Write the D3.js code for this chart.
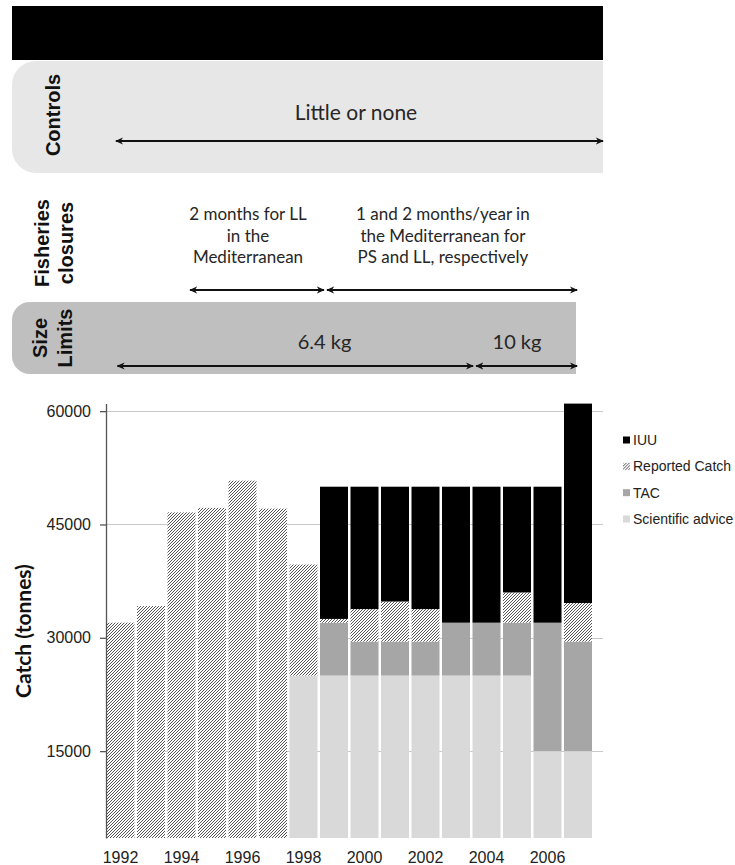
<!DOCTYPE html>
<html>
<head>
<meta charset="utf-8">
<script src="https://cdn.jsdelivr.net/npm/d3@7"></script>
<style>
  body { margin: 0; background: #fff; }
  svg { display: block; }
</style>
</head>
<body>
<svg id="chart" width="735" height="865"></svg>
<script>
// ---- data ----
var years = [1992, 1993, 1994, 1995, 1996, 1997, 1998, 1999,
             2000, 2001, 2002, 2003, 2004, 2005, 2006, 2007];
var tickYears = [1992, 1994, 1996, 1998, 2000, 2002, 2004, 2006];
var sciAdvice = [null, null, null, null, null, null, 25000, 25000,
                 25000, 25000, 25000, 25000, 25000, 25000, 15000, 15000];
var tac = [null, null, null, null, null, null, null, 32000,
           29500, 29500, 29500, 32000, 32000, 32000, 32000, 29500];
var reported = [32000, 34200, 46600, 47200, 50800, 47100, 39700, 32500,
                33800, 34800, 33800, null, null, 36000, null, 34600];
// reported + IUU
var totalCatch = [null, null, null, null, null, null, null, 50000,
                  50000, 50000, 50000, 50000, 50000, 50000, 50000, 61000];
var yTicks = [15000, 30000, 45000, 60000];
var legendLabels = ["IUU", "Reported Catch", "TAC", "Scientific advice"];

// management timeline rows (in years)
var controlsPeriods = [{from: 1991.85, to: 2007.82, at: 1999.72, lines: ["Little or none"]}];
var closurePeriods = [
  {from: 1994.28, to: 1998.67, at: 1996.18, lines: ["2 months for LL", "in the", "Mediterranean"]},
  {from: 1998.77, to: 2006.97, at: 2002.57, lines: ["1 and 2 months/year in", "the Mediterranean for", "PS and LL, respectively"]}
];
var sizePeriods = [
  {from: 1991.9, to: 2003.56, at: 1998.69, lines: ["6.4 kg"]},
  {from: 2003.66, to: 2006.97, at: 2005.0, lines: ["10 kg"]}
];

var svg = d3.select("#chart");
var defs = svg.append("defs");

var hatch = defs.append("pattern")
    .attr("id", "hatch")
    .attr("patternUnits", "userSpaceOnUse")
    .attr("width", 3)
    .attr("height", 3);
hatch.append("rect").attr("width", 3).attr("height", 3).attr("fill", "#fff");
hatch.append("path")
    .attr("d", "M-1,1 l2,-2 M0,3 l3,-3 M2,4 l2,-2")
    .attr("stroke", "#555")
    .attr("stroke-width", 1);

defs.append("marker")
    .attr("id", "head")
    .attr("viewBox", "0 0 10 10")
    .attr("refX", 9)
    .attr("refY", 5)
    .attr("markerUnits", "userSpaceOnUse")
    .attr("markerWidth", 8)
    .attr("markerHeight", 8)
    .attr("orient", "auto-start-reverse")
  .append("path")
    .attr("d", "M0,0.5 L10,5 L0,9.5 L3,5 Z")
    .attr("fill", "#111");

// ---- scales ----
var x = d3.scaleBand()
    .domain(years)
    .range([106.5, 592])
    .paddingInner(0.082);

var xYear = d3.scaleLinear()
    .domain([1992, 2007])
    .range([x(1992) + x.bandwidth() / 2, x(2007) + x.bandwidth() / 2]);

var yFloor = 3500;
var y = d3.scaleLinear()
    .domain([yFloor, 61000])
    .range([838, 403.6])
    .clamp(true);

// ---- top timeline panels ----
function leftRounded(x0, y0, x1, y1, r) {
    var p = d3.path();
    p.moveTo(x1, y0);
    p.lineTo(x0 + r, y0);
    p.arcTo(x0, y0, x0, y0 + r, r);
    p.lineTo(x0, y1 - r);
    p.arcTo(x0, y1, x0 + r, y1, r);
    p.lineTo(x1, y1);
    p.closePath();
    return p.toString();
}

var panel = svg.append("g");
panel.append("rect")
    .attr("x", 12).attr("y", 6)
    .attr("width", 591).attr("height", 54)
    .attr("fill", "#000");
panel.append("path")
    .attr("d", leftRounded(12, 61, 603, 173, 24))
    .attr("fill", "#e7e7e7");
panel.append("path")
    .attr("d", leftRounded(12, 302, 576, 374, 18))
    .attr("fill", "#bfbfbf");

function rowLabel(lines, baselines, cy) {
    lines.forEach(function(t, i) {
        panel.append("text")
            .attr("transform", "translate(" + baselines[i] + "," + cy + ") rotate(-90)")
            .attr("text-anchor", "middle")
            .style("font-family", "'Liberation Sans', Arial, sans-serif")
            .style("font-weight", "bold")
            .style("font-size", "20px")
            .style("fill", "#111")
            .text(t);
    });
}
rowLabel(["Controls"], [60], 115);
rowLabel(["Fisheries", "closures"], [49, 73], 243);
rowLabel(["Size", "Limits"], [47, 72], 338);

function timelineRow(periods, arrowY, firstBaseline, lineGap, fontSize) {
    periods.forEach(function(p) {
        panel.append("line")
            .attr("x1", xYear(p.from)).attr("x2", xYear(p.to))
            .attr("y1", arrowY).attr("y2", arrowY)
            .attr("stroke", "#111")
            .attr("stroke-width", 2)
            .attr("marker-start", "url(#head)")
            .attr("marker-end", "url(#head)");
        p.lines.forEach(function(t, i) {
            panel.append("text")
                .attr("x", xYear(p.at))
                .attr("y", firstBaseline + i * lineGap)
                .attr("text-anchor", "middle")
                .style("font-family", "Lato, 'Open Sans', sans-serif")
                .style("font-size", fontSize + "px")
                .style("fill", "#262626")
                .text(t);
        });
    });
}
timelineRow(controlsPeriods, 141, 120, 0, 21);
timelineRow(closurePeriods, 290, 220, 21.5, 17);
timelineRow(sizePeriods, 366, 349, 0, 20);

// ---- bar chart ----
svg.append("g")
    .selectAll("line")
    .data(yTicks)
    .join("line")
    .attr("x1", 106).attr("x2", 603)
    .attr("y1", function(d) { return Math.round(y(d)) + 0.5; })
    .attr("y2", function(d) { return Math.round(y(d)) + 0.5; })
    .attr("stroke", "#c9c9c9")
    .attr("stroke-width", 1.2);

var segments = [];
years.forEach(function(yr, i) {
    var base = 0;
    if (sciAdvice[i] != null) {
        segments.push({year: yr, v0: base, v1: sciAdvice[i], fill: "#d9d9d9"});
        base = sciAdvice[i];
    }
    if (tac[i] != null) {
        segments.push({year: yr, v0: base, v1: tac[i], fill: "#a6a6a6"});
        base = tac[i];
    }
    if (reported[i] != null && reported[i] > base) {
        segments.push({year: yr, v0: base, v1: reported[i], fill: "url(#hatch)"});
        base = reported[i];
    }
    if (totalCatch[i] != null && totalCatch[i] > base) {
        segments.push({year: yr, v0: base, v1: totalCatch[i], fill: "#000"});
    }
});

svg.append("g")
    .selectAll("rect")
    .data(segments)
    .join("rect")
    .attr("x", function(d) { return x(d.year); })
    .attr("width", x.bandwidth())
    .attr("y", function(d) { return y(d.v1); })
    .attr("height", function(d) { return y(d.v0) - y(d.v1); })
    .attr("fill", function(d) { return d.fill; });

var yAxis = d3.axisLeft(y)
    .tickValues(yTicks)
    .tickSize(6)
    .tickSizeOuter(0)
    .tickPadding(9)
    .tickFormat(d3.format("d"));

var ya = svg.append("g")
    .attr("transform", "translate(106,0)")
    .call(yAxis);
ya.select(".domain").attr("stroke", "#555").attr("stroke-width", 1.3);
ya.selectAll(".tick line").attr("stroke", "#555").attr("stroke-width", 1.3);
ya.selectAll("text")
    .style("font-family", "'Liberation Sans', Arial, sans-serif")
    .style("font-size", "16px")
    .style("fill", "#222");

svg.append("g")
    .selectAll("text")
    .data(tickYears)
    .join("text")
    .attr("x", function(d) { return x(d) + x.bandwidth() / 2; })
    .attr("y", 863)
    .attr("text-anchor", "middle")
    .style("font-family", "'Liberation Sans', Arial, sans-serif")
    .style("font-size", "16px")
    .style("fill", "#222")
    .text(function(d) { return d; });

svg.append("text")
    .attr("transform", "translate(31,631) rotate(-90)")
    .attr("text-anchor", "middle")
    .style("font-family", "Lato, sans-serif")
    .style("font-weight", "bold")
    .style("font-size", "21px")
    .style("fill", "#111")
    .text("Catch (tonnes)");

// ---- legend ----
var legendFills = ["#000", "url(#hatch)", "#a6a6a6", "#d9d9d9"];
var ly = d3.scalePoint().domain(legendLabels).range([440, 519]);
var lg = svg.append("g")
    .selectAll("g")
    .data(legendLabels)
    .join("g")
    .attr("transform", function(d) { return "translate(623," + ly(d) + ")"; });
lg.append("rect")
    .attr("x", 0).attr("y", -3.5)
    .attr("width", 7).attr("height", 7)
    .attr("fill", function(d, i) { return legendFills[i]; });
lg.append("text")
    .attr("x", 10)
    .attr("y", 5)
    .style("font-family", "'Liberation Sans', Arial, sans-serif")
    .style("font-size", "14px")
    .style("fill", "#222")
    .text(function(d) { return d; });
</script>
</body>
</html>
